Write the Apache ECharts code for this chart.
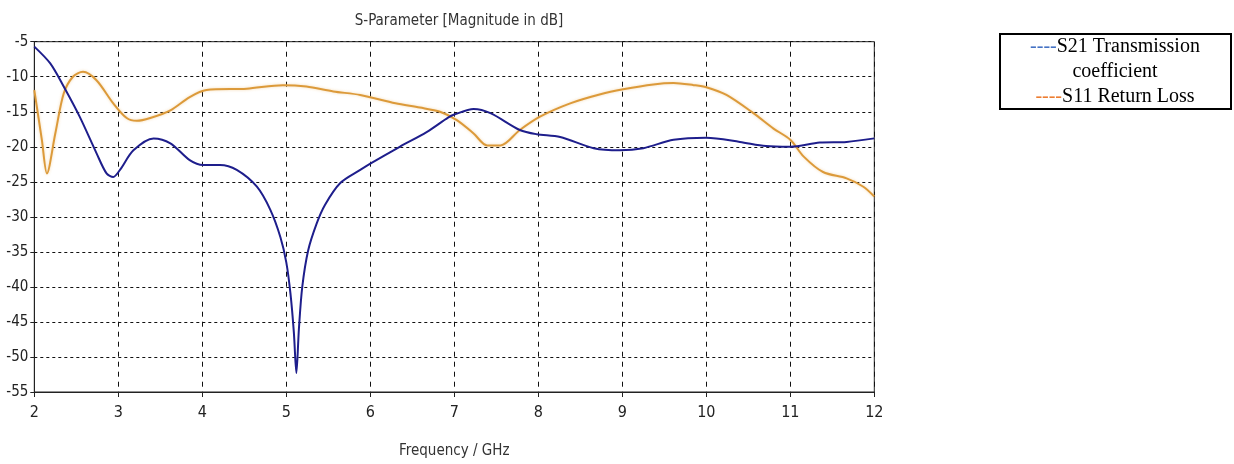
<!DOCTYPE html>
<html>
<head>
<meta charset="utf-8">
<script src="https://cdn.jsdelivr.net/npm/echarts@6/dist/echarts.min.js"></script>
<style>
html,body{margin:0;padding:0;background:#fff;}
#chart{width:1234px;height:464px;}
</style>
</head>
<body>
<div id="chart"></div>
<script>
// S21 Transmission coefficient (GHz, dB)
const s21Freq = [2.0, 2.19, 2.35, 2.54, 2.74, 2.86, 2.94, 3.02, 3.18, 3.42, 3.62, 3.85, 4.01, 4.21, 4.41, 4.65, 4.81, 4.93, 5.0, 5.05, 5.09, 5.12, 5.15, 5.19, 5.26, 5.36, 5.46, 5.64, 5.88, 6.0, 6.35, 6.67, 6.93, 7.0, 7.23, 7.43, 7.78, 7.98, 8.26, 8.66, 8.97, 9.25, 9.61, 10.0, 10.40, 10.71, 11.0, 11.35, 11.67, 12.0];
const s21Db = [-5.7, -8.1, -11.4, -15.7, -20.9, -23.8, -24.3, -23.3, -20.5, -18.8, -19.5, -21.9, -22.6, -22.6, -23.3, -25.7, -29.0, -32.9, -36.5, -41.0, -46.5, -52.3, -46.0, -40.0, -34.8, -31.0, -28.3, -25.2, -23.3, -22.4, -20.0, -17.9, -15.8, -15.4, -14.6, -15.2, -17.6, -18.2, -18.6, -20.2, -20.5, -20.2, -19.0, -18.7, -19.3, -19.9, -20.0, -19.4, -19.3, -18.8];

// S11 Return Loss (GHz, dB)
const s11Freq = [2.0, 2.09, 2.15, 2.25, 2.35, 2.46, 2.58, 2.74, 2.94, 3.10, 3.22, 3.38, 3.62, 3.85, 4.05, 4.53, 4.96, 5.24, 5.56, 5.88, 6.3, 6.59, 6.83, 7.03, 7.23, 7.39, 7.55, 7.78, 8.02, 8.38, 8.74, 9.01, 9.37, 9.61, 9.85, 10.0, 10.24, 10.56, 10.80, 11.0, 11.16, 11.39, 11.67, 11.87, 12.0];
const s11Db = [-11.9, -19.0, -23.8, -18.1, -12.4, -10.0, -9.3, -10.5, -13.8, -15.9, -16.3, -15.9, -14.8, -12.9, -11.9, -11.7, -11.2, -11.4, -12.1, -12.6, -13.8, -14.4, -15.0, -16.2, -18.1, -19.8, -19.8, -17.6, -15.7, -13.8, -12.5, -11.8, -11.1, -10.9, -11.2, -11.5, -12.6, -15.2, -17.4, -19.0, -21.4, -23.6, -24.5, -25.7, -27.1];

const titleText = 'S-Parameter [Magnitude in dB]';
const xAxisName = 'Frequency / GHz';
const legendLines = ['S21 Transmission', 'coefficient', 'S11 Return Loss'];

const narrow = "'Liberation Sans Narrow','DejaVu Sans Condensed','Arial Narrow',sans-serif";
const serif = "'Liberation Serif','Times New Roman',serif";

function pairs(xs, ys) { return xs.map((x, i) => [x, ys[i]]); }

const chart = echarts.init(document.getElementById('chart'), null, {renderer: 'canvas'});
chart.setOption({
  animation: false,
  backgroundColor: '#ffffff',
  title: {
    text: titleText,
    left: 454,
    top: 9,
    textAlign: 'center',
    textStyle: {fontFamily: narrow, fontSize: 15, fontWeight: 'normal', color: '#333'}
  },
  grid: {
    left: 34.3, right: 359.7, top: 41.7, bottom: 72,
    show: true, borderColor: '#222', borderWidth: 1, backgroundColor: 'transparent'
  },
  xAxis: {
    type: 'value', min: 2, max: 12, interval: 1,
    name: xAxisName, nameLocation: 'middle', nameGap: 52,
    nameTextStyle: {fontFamily: narrow, fontSize: 15, color: '#333'},
    axisLine: {show: true, lineStyle: {color: '#222', width: 1}},
    axisTick: {show: true, length: 5, lineStyle: {color: '#222'}},
    axisLabel: {fontFamily: narrow, fontSize: 16, color: '#222', margin: 13},
    splitLine: {show: true, lineStyle: {color: '#111', width: 1, type: [5, 5]}}
  },
  yAxis: {
    type: 'value', min: -55, max: -5, interval: 5,
    axisLine: {show: true, lineStyle: {color: '#222', width: 1}},
    axisTick: {show: true, length: 4, lineStyle: {color: '#222'}},
    axisLabel: {fontFamily: narrow, fontSize: 15, color: '#222', margin: 6},
    splitLine: {show: true, lineStyle: {color: '#111', width: 1, type: [3, 3]}}
  },
  series: [
    {
      name: 'S21 Transmission coefficient', type: 'line', smooth: 0.3, showSymbol: false,
      data: pairs(s21Freq, s21Db),
      lineStyle: {color: '#1e1e8c', width: 2},
      itemStyle: {color: '#1e1e8c'}, z: 3
    },
    {
      name: 'S11 Return Loss', type: 'line', smooth: 0.3, showSymbol: false,
      data: pairs(s11Freq, s11Db),
      lineStyle: {color: '#dc9a3a', width: 2, shadowColor: 'rgba(230,170,80,0.45)', shadowBlur: 3},
      itemStyle: {color: '#dc9a3a'}, z: 2
    }
  ],
  graphic: [
    {
      type: 'rect', left: 999, top: 33,
      shape: {width: 231, height: 75},
      style: {fill: '#fff', stroke: '#000', lineWidth: 2}
    },
    {
      type: 'text', x: 1115, y: 47,
      style: {
        text: '{d|----}{t|' + legendLines[0] + '}',
        align: 'center', verticalAlign: 'middle',
        rich: {
          d: {fill: '#4472c4', fontSize: 20, fontFamily: serif},
          t: {fill: '#000', fontSize: 20, fontFamily: serif}
        }
      }
    },
    {
      type: 'text', x: 1115, y: 72,
      style: {
        text: legendLines[1], align: 'center', verticalAlign: 'middle',
        fill: '#000', fontSize: 20, fontFamily: serif
      }
    },
    {
      type: 'text', x: 1115, y: 97,
      style: {
        text: '{d|----}{t|' + legendLines[2] + '}',
        align: 'center', verticalAlign: 'middle',
        rich: {
          d: {fill: '#ed7d31', fontSize: 20, fontFamily: serif},
          t: {fill: '#000', fontSize: 20, fontFamily: serif}
        }
      }
    }
  ]
});
</script>
</body>
</html>
